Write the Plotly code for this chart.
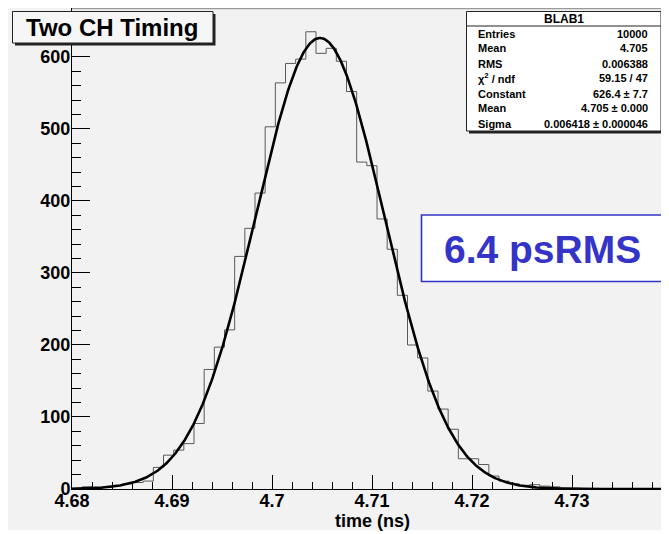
import numpy as np
import plotly.graph_objects as go

# ---------------- data ----------------
hist_name = "BLAB1"
title_text = "Two CH Timing"
x_title = "time (ns)"
x_low, x_high, n_bins = 4.68, 4.741, 60
counts = [1, 3, 1, 2, 5, 7, 9, 11,
          30, 47, 54, 63, 91, 166, 197, 221,
          323, 362, 411, 503, 564, 591, 597, 635,
          605, 612, 594, 552, 454, 449, 375, 333, 269,
          200, 182, 136, 111, 83, 42, 42, 34, 18, 11, 7, 5, 6, 4, 3,
          1, 1, 0, 0, 0, 0, 0, 0, 0, 0, 0, 0]
fit_constant, fit_mean, fit_sigma = 626.4, 4.7048, 0.006418
stat_labels = ["Entries", "Mean", "RMS", "χ<sup>2</sup> / ndf", "Constant", "Mean", "Sigma"]
stat_values = ["10000", "4.705", "0.006388", "59.15 / 47", "626.4 ± 7.7",
               "4.705 ± 0.000", "0.006418 ± 0.000046"]
x_tick_start, x_tick_step, x_cut_label = 4.68, 0.01, "4.74"
y_tick_step = 100
y_top = 668
callout = "6.4 psRMS"

# ---------------- geometry (page pixels; the page body has an 8 px margin) ----------------
OFF = 8
W, H = 661, 526
L, R, T, B = 64, 0, 0, 45
PW, PH = W - L - R, H - T - B


def px(x):  # page x -> paper
    return (x - OFF - L) / PW


def py(y):  # page y -> paper
    return (H - B - (y - OFF)) / PH


FONT = "Liberation Sans, Arial, Helvetica, sans-serif"
BLUE = "#3434c8"

edges = np.linspace(x_low, x_high, n_bins + 1)
hx = [edges[0]] + list(edges[:-1]) + [edges[-1], edges[-1]]
hy = [0] + counts + [counts[-1], 0]

xf = np.linspace(x_low, x_high, 800)
yf = fit_constant * np.exp(-0.5 * ((xf - fit_mean) / fit_sigma) ** 2)

fig = go.Figure()
fig.add_trace(go.Scatter(x=hx, y=hy, mode="lines", line=dict(shape="hv", color="#5a5a5a", width=1),
                         hoverinfo="skip", showlegend=False))
fig.add_trace(go.Scatter(x=xf, y=yf, mode="lines", line=dict(color="black", width=2.6),
                         hoverinfo="skip", showlegend=False))

shapes = []
# white strip at the bottom of the canvas
shapes.append(dict(type="rect", xref="paper", yref="paper", x0=px(0), x1=px(700), y0=py(540), y1=py(530),
                   fillcolor="white", line=dict(width=0), layer="below"))
# frame top line
shapes.append(dict(type="line", xref="paper", yref="paper", x0=px(72), x1=px(700), y0=py(8.5), y1=py(8.5),
                   line=dict(color="#9a9a9a", width=1.5)))
# title box shadow + box
shapes.append(dict(type="rect", xref="paper", yref="paper", x0=px(15), x1=px(215.5), y0=py(45.5), y1=py(14),
                   fillcolor="#222222", line=dict(width=0)))
shapes.append(dict(type="rect", xref="paper", yref="paper", x0=px(12.5), x1=px(213), y0=py(43), y1=py(11.5),
                   fillcolor="#f6f6f6", line=dict(color="#222222", width=1)))
# stats box shadow + box
shapes.append(dict(type="rect", xref="paper", yref="paper", x0=px(469), x1=px(663.5), y0=py(133.5), y1=py(14),
                   fillcolor="#222222", line=dict(width=0)))
shapes.append(dict(type="rect", xref="paper", yref="paper", x0=px(466.5), x1=px(661), y0=py(131), y1=py(11.5),
                   fillcolor="white", line=dict(color="#222222", width=1)))
shapes.append(dict(type="line", xref="paper", yref="paper", x0=px(466.5), x1=px(661), y0=py(26), y1=py(26),
                   line=dict(color="#222222", width=1)))
# callout box
shapes.append(dict(type="rect", xref="paper", yref="paper", x0=px(421.5), x1=px(662.5), y0=py(281.5), y1=py(215),
                   fillcolor="white", line=dict(color=BLUE, width=1.6)))

ann = []
ann.append(dict(text=title_text, xref="paper", yref="paper", x=px(112), y=py(27.5), showarrow=False,
                xanchor="center", yanchor="middle", font=dict(family=FONT, size=24, color="black", weight="bold")))
ann.append(dict(text=hist_name, xref="paper", yref="paper", x=px(564), y=py(19), showarrow=False,
                xanchor="center", yanchor="middle", font=dict(family=FONT, size=12, color="black", weight="bold")))
for i, (lab, val) in enumerate(zip(stat_labels, stat_values)):
    yy = 33.5 + 15 * i
    ann.append(dict(text=lab, xref="paper", yref="paper", x=px(476), y=py(yy), showarrow=False,
                    xanchor="left", yanchor="middle", font=dict(family=FONT, size=11, color="black", weight="bold")))
    ann.append(dict(text=val, xref="paper", yref="paper", x=px(650), y=py(yy), showarrow=False,
                    xanchor="right", yanchor="middle", font=dict(family=FONT, size=11, color="black", weight="bold")))
ann.append(dict(text=callout, xref="paper", yref="paper", x=px(542), y=py(249), showarrow=False,
                xanchor="center", yanchor="middle", font=dict(family=FONT, size=39, color=BLUE, weight="bold")))
ann.append(dict(text=x_title, xref="paper", yref="paper", x=px(372), y=py(521), showarrow=False,
                xanchor="center", yanchor="middle", font=dict(family=FONT, size=18, color="black", weight="bold")))
# label of the tick that falls just outside the picture
ann.append(dict(text=x_cut_label, xref="x", yref="paper", x=float(x_cut_label), y=py(502), showarrow=False,
                xanchor="center", yanchor="middle", font=dict(family=FONT, size=18, color="black", weight="bold")))

fig.update_layout(
    width=W, height=H, autosize=False,
    margin=dict(l=L, r=R, t=T, b=B, pad=0),
    paper_bgcolor="#f2f2f2", plot_bgcolor="#f2f2f2",
    shapes=shapes, annotations=ann,
    xaxis=dict(range=[x_low, x_low + PW / 100.0 * x_tick_step], showline=True, linecolor="black", linewidth=1,
               ticks="inside", ticklen=14, tickwidth=1, tickcolor="black",
               tickmode="linear", tick0=x_tick_start, dtick=x_tick_step, ticklabelstandoff=-5,
               minor=dict(ticks="inside", ticklen=7, tickcolor="black", dtick=x_tick_step / 5, tick0=x_tick_start,
                          showgrid=False),
               showgrid=False, zeroline=False,
               tickfont=dict(family=FONT, size=18, color="black", weight="bold")),
    yaxis=dict(range=[0, y_top], showline=True, linecolor="black", linewidth=1,
               ticks="inside", ticklen=18, tickwidth=1, tickcolor="black",
               tickmode="linear", tick0=0, dtick=y_tick_step, ticklabelstandoff=-3,
               minor=dict(ticks="inside", ticklen=9, tickcolor="black", dtick=y_tick_step / 5, showgrid=False),
               showgrid=False, zeroline=False,
               tickfont=dict(family=FONT, size=18, color="black", weight="bold")),
)

fig.write_html("out.html")
